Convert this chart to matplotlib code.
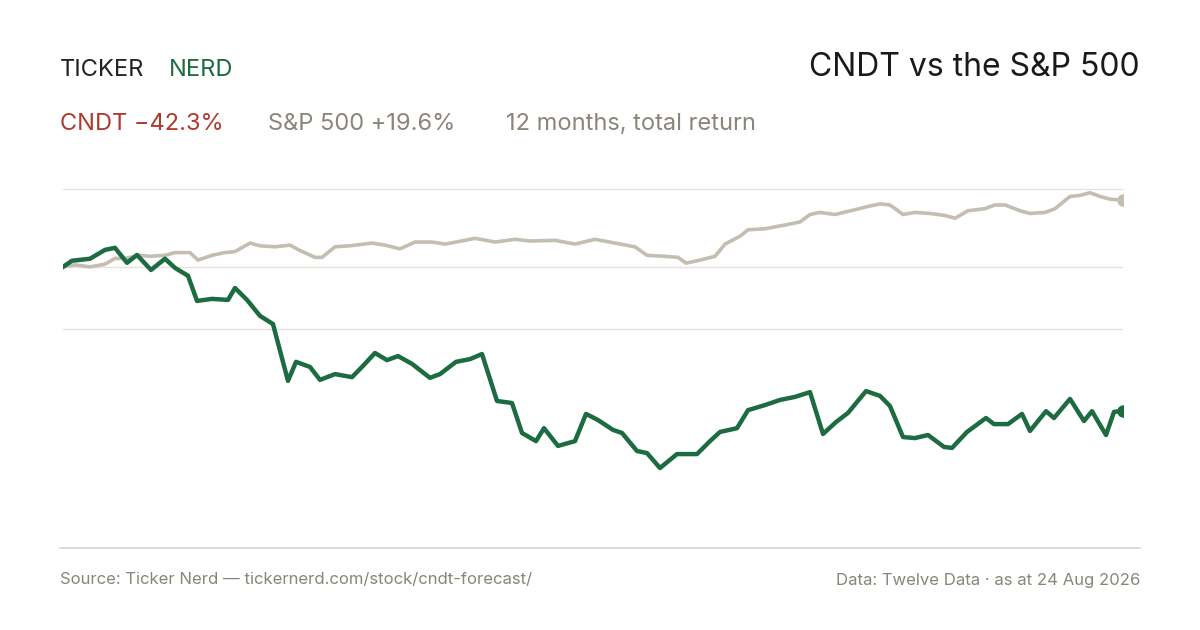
"""
Comparison chart of CNDT against the S&P 500 over twelve months (total return).
"""

import matplotlib.pyplot as plt
import numpy as np
# Modify default matplotlib behavior.
plt.rcParams['figure.dpi'] = 100
plt.rcParams['font.family'] = ['Inter', 'DejaVu Sans']

GREEN = '#1d6b40'
SAND = '#c4bdb1'
RED = '#b03a2e'
MUTED = '#8a8578'

# Cumulative return in percent
CNDT = [0, 1.8, 2.4, 5.0, 5.6, 1.2, 3.5, -0.9, 2.4, -0.3, -2.6, -10.0, -9.4, -9.7, -6.2,
        -9.7, -14.4, -16.8, -33.5, -27.9, -29.4, -33.2, -31.5, -32.4, -29.4, -25.3, -27.4,
        -26.2, -28.5, -32.6, -31.5, -27.9, -27.1, -25.6, -39.4, -40.0, -48.8, -51.2, -47.4,
        -52.6, -51.2, -43.2, -45.0, -47.9, -48.8, -54.1, -54.7, -59.1, -55.0, -55.0, -51.2,
        -48.5, -47.4, -42.1, -40.6, -39.1, -38.2, -36.8, -49.1, -45.6, -42.9, -36.5, -37.9,
        -40.9, -50.0, -50.3, -49.4, -52.9, -53.2, -48.5, -44.4, -46.2, -46.2, -43.2, -48.2,
        -42.4, -44.4, -38.8, -45.3, -42.4, -49.4, -42.6, -42.3]
CNDT_X = [63, 72, 90, 105, 115, 127, 137, 151, 165, 175, 188, 197, 212, 228, 235, 247, 260,
          273, 288, 296, 310, 320, 335, 352, 362, 375, 387, 398, 412, 430, 440, 456, 470, 482,
          497, 512, 522, 536, 544, 558, 575, 586, 598, 613, 622, 637, 647, 660, 677, 697, 710,
          720, 737, 748, 765, 780, 795, 810, 823, 836, 848, 866, 880, 890, 903, 915, 928, 944,
          952, 967, 986, 994, 1008, 1022, 1030, 1046, 1054, 1070, 1084, 1092, 1106, 1114, 1123]

SPX = [0, 0.6, 0, 0.8, 2.5, 2.5, 3.4, 3.1, 3.4, 4.2, 4.2, 2.0, 3.4, 4.2, 4.5, 7.0, 6.2, 5.9,
       6.4, 4.8, 2.8, 2.8, 5.9, 6.2, 7.0, 6.4, 5.3, 7.3, 7.3, 6.7, 7.8, 8.4, 7.3, 8.1, 7.6,
       7.8, 6.7, 8.1, 7.0, 5.9, 3.4, 3.1, 2.8, 1.1, 2.0, 3.1, 6.7, 9.0, 10.9, 11.2, 12.3, 13.2,
       15.4, 16.0, 15.4, 16.8, 17.9, 18.5, 18.2, 15.4, 16.0, 15.7, 15.1, 14.3, 16.5, 17.1,
       18.2, 18.2, 16.5, 15.7, 16.0, 17.1, 20.7, 21.0, 21.8, 20.7, 19.9, 19.6]
SPX_X = [63, 75, 90, 105, 115, 125, 140, 150, 165, 175, 190, 198, 212, 225, 235, 250, 260,
         275, 290, 300, 315, 322, 335, 350, 372, 385, 400, 415, 432, 445, 465, 475, 495, 515,
         530, 555, 575, 595, 615, 635, 647, 665, 678, 686, 700, 715, 725, 740, 748, 765, 785,
         800, 810, 820, 835, 855, 870, 880, 890, 903, 915, 930, 945, 955, 968, 985, 995, 1005,
         1020, 1030, 1045, 1055, 1070, 1080, 1090, 1100, 1110, 1123]


def toDays(xs):
    """Convert sample positions to a 0-365 day axis."""
    xs = np.array(xs, dtype=float)
    return (xs - xs[0]) / (xs[-1] - xs[0]) * 365


def makeHeader(fig):
    """Brand, title and the summary line above the chart."""
    fig.text(60 / 1200, 1 - 70 / 630, 'TICKER', color='#222222', fontsize=17, va='center')
    fig.text(169 / 1200, 1 - 70 / 630, 'NERD', color=GREEN, fontsize=17, va='center')
    fig.text(1140 / 1200, 1 - 68 / 630, 'CNDT vs the S&P 500', color='#1a1a1a',
             fontsize=23, ha='right', va='center')
    fig.text(60 / 1200, 1 - 124 / 630, 'CNDT \u221242.3%', color=RED, fontsize=17, va='center')
    fig.text(268 / 1200, 1 - 124 / 630, 'S&P 500 +19.6%', color=MUTED, fontsize=17, va='center')
    fig.text(506 / 1200, 1 - 124 / 630, '12 months, total return', color=MUTED,
             fontsize=17, va='center')


def makeFooter(fig):
    """Bottom rule and source notes."""
    fig.add_artist(plt.Line2D([60 / 1200, 1140 / 1200], [1 - 548 / 630] * 2,
                              color='#d8d4cc', lw=1.2))
    fig.text(60 / 1200, 1 - 580 / 630, 'Source: Ticker Nerd \u2014 tickernerd.com/stock/cndt-forecast/',
             color=MUTED, fontsize=12, va='center')
    fig.text(1140 / 1200, 1 - 580 / 630, 'Data: Twelve Data \u00b7 as at 24 Aug 2026',
             color=MUTED, fontsize=12, va='center', ha='right')


def makeChart(fig):
    """Draw both return lines with the end markers."""
    ax = fig.add_axes([63 / 1200, 1 - 548 / 630, 1060 / 1200, (548 - 175) / 630])
    for y in [22.9, 0, -18.2]:
        plt.axhline(y, color='#e6e3dd', lw=1, zorder=0)

    spx_days = toDays(SPX_X)
    cndt_days = toDays(CNDT_X)
    plt.plot(spx_days, SPX, color=SAND, lw=2.6, solid_joinstyle='round')
    plt.plot(spx_days[-1], SPX[-1], 'o', color=SAND, markersize=8)
    plt.plot(cndt_days, CNDT, color=GREEN, lw=3.2, solid_joinstyle='round')
    plt.plot(cndt_days[-1], CNDT[-1], 'o', color=GREEN, markersize=8)

    plt.xlim(0, 365)
    plt.ylim(-82.6, 27)
    plt.axis('off')
    return ax


def main():
    fig = plt.figure(figsize=(12, 6.3), facecolor='white')
    makeHeader(fig)
    makeChart(fig)
    makeFooter(fig)
    plt.savefig('out.png', dpi=100, facecolor='white')


if __name__ == '__main__':
    main()
